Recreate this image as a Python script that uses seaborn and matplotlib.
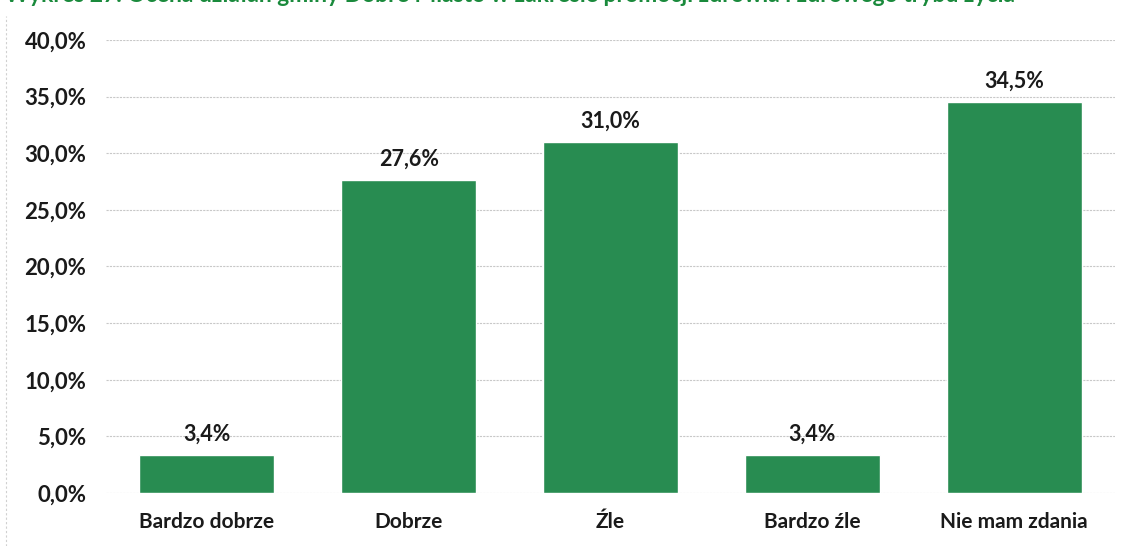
import matplotlib
matplotlib.use("Agg")
import matplotlib.pyplot as plt
import seaborn as sns
from matplotlib.ticker import FuncFormatter

# Ocena działań gminy
categories = ["Bardzo dobrze", "Dobrze", "Źle", "Bardzo źle", "Nie mam zdania"]
values = [3.4, 27.6, 31.0, 3.4, 34.5]
title = "Wykres 27. Ocena działań gminy Dobre Miasto w zakresie promocji zdrowia i zdrowego trybu życia"

sns.set_style("white")
plt.rcParams['font.family'] = ['Lato', 'DejaVu Sans']

fig = plt.figure(figsize=(11.38, 5.46), dpi=100)
ax = fig.add_axes([0.093, 0.097, 0.887, 0.830])

sns.barplot(x=categories, y=values, color="#288c51", saturation=1, width=0.67, ax=ax)

for i, v in enumerate(values):
    ax.text(i, v + 0.9, f"{v:.1f}%".replace(".", ","), ha="center", va="bottom",
            fontsize=15.5, fontweight="bold", color="#1a1a1a")

ax.set_ylim(0, 40)
ax.set_yticks(range(0, 41, 5))
ax.yaxis.set_major_formatter(FuncFormatter(lambda y, _: f"{y:.1f}%".replace(".", ",")))
ax.grid(axis="y", color="#c8c8c8", linestyle=(0, (2, 1)), linewidth=0.8)
ax.set_axisbelow(True)
for s in ax.spines.values():
    s.set_visible(False)
ax.tick_params(axis="y", labelsize=16, pad=14, length=0, labelcolor="#1a1a1a")
ax.tick_params(axis="x", labelsize=15, pad=14, length=0, labelcolor="#1a1a1a")
for lab in ax.get_yticklabels() + ax.get_xticklabels():
    lab.set_fontweight("bold")

# tytuł ucięty u góry skanu
fig.text(0.004, 1.008, title, ha="left", va="center", fontsize=16.5,
         fontweight="bold", color="#1a8a3c")
fig.add_artist(plt.Line2D([0.005, 0.005], [0.0, 0.97], color="#d0d0d0",
                          linestyle=(0, (2, 2)), linewidth=0.8))

plt.savefig("out.png", dpi=100)
